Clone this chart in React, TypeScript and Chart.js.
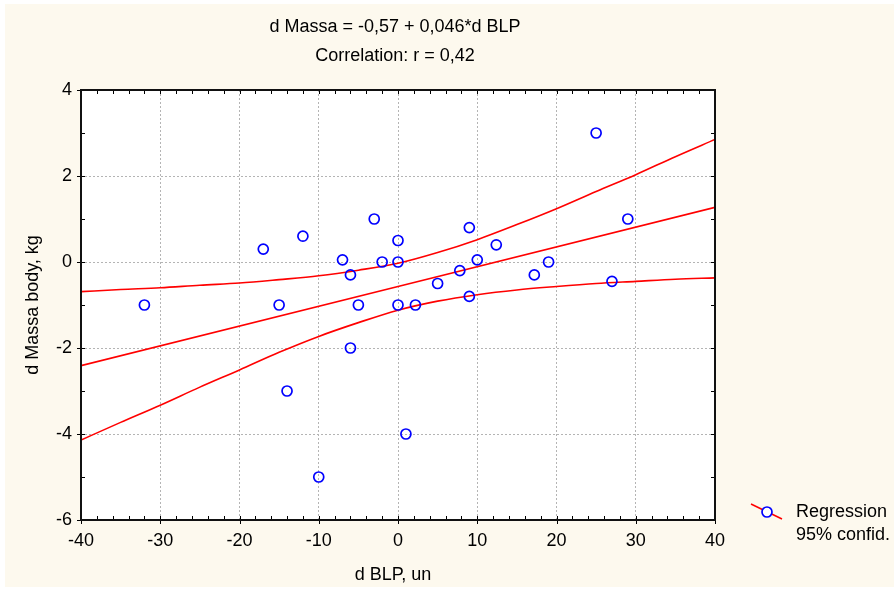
import React, { useEffect, useRef } from "react";
import { Chart, registerables } from "chart.js";

Chart.register(...registerables);

// ---- data ----
const titleLines = ["d Massa = -0,57 + 0,046*d BLP", "Correlation: r = 0,42"];
const xAxisTitle = "d BLP, un";
const yAxisTitle = "d Massa body, kg";
const legendLabels = ["Regression", "95% confid."];

// observations: change in BLP (x) and change in body mass (y)
const dBLP = [-32, -17, -15, -14, -12, -10, -7, -6, -6, -5, -3, -2, 0, 0, 0, 1, 2.2, 5, 7.8, 9, 9, 10, 12.4, 17.2, 19, 25, 27, 29];
const dMassa = [-1, 0.3, -1, -3, 0.6, -5, 0.05, -0.3, -2, -1, 1, 0, 0.5, 0, -1, -4, -1, -0.5, -0.2, 0.8, -0.8, 0.05, 0.4, -0.3, 0, 3, -0.45, 1];

// fitted line: d Massa = -0,57 + 0,046*d BLP
const intercept = -0.57;
const slope = 0.046;
const xRange = [-40, 40];
const yRange = [-6, 4];

// 95% confidence band of the fit
const bandX = [-40, -35, -30, -25, -20, -15, -10, -5, 0, 5, 10, 15, 20, 25, 30, 35, 40];
const bandUpper = [-0.69, -0.64, -0.6, -0.54, -0.49, -0.41, -0.32, -0.19, -0.03, 0.22, 0.52, 0.87, 1.24, 1.64, 2.03, 2.45, 2.85];
const bandLower = [-4.14, -3.73, -3.33, -2.91, -2.51, -2.1, -1.73, -1.41, -1.12, -0.91, -0.76, -0.65, -0.57, -0.5, -0.45, -0.4, -0.37];

const xTickStep = 10;
const yTickStep = 2;
const xMinorStep = 2;
const yMinorStep = 1;

const FONT = "'Liberation Sans', Arial, Helvetica, sans-serif";
const CREAM = "#fdf9ee";
const RED = "#ff0000";
const BLUE = "#0000ff";

const framePlugin = {
  id: "frameAndDecor",
  beforeDraw(chart: any) {
    const { ctx, chartArea: a, width, height } = chart;
    ctx.save();
    ctx.fillStyle = "#ffffff";
    ctx.fillRect(0, 0, width, height);
    ctx.fillStyle = CREAM;
    ctx.fillRect(5, 4, width - 5, height - 9);
    ctx.fillStyle = "#ffffff";
    ctx.fillRect(a.left, a.top, a.right - a.left, a.bottom - a.top);
    ctx.restore();
  },
  afterDraw(chart: any) {
    const { ctx, chartArea: a, scales } = chart;
    const xs = scales.x;
    const ys = scales.y;
    ctx.save();
    // minor ticks, pointing inward
    ctx.strokeStyle = "#000";
    ctx.lineWidth = 1;
    ctx.beginPath();
    for (let v = xRange[0] + xMinorStep; v < xRange[1]; v += xMinorStep) {
      const px = Math.round(xs.getPixelForValue(v)) + 0.5;
      ctx.moveTo(px, a.top);
      ctx.lineTo(px, a.top + 4);
      ctx.moveTo(px, a.bottom);
      ctx.lineTo(px, a.bottom - 4);
    }
    for (let v = yRange[0] + yMinorStep; v < yRange[1]; v += yMinorStep) {
      const py = Math.round(ys.getPixelForValue(v)) + 0.5;
      ctx.moveTo(a.left, py);
      ctx.lineTo(a.left + 4, py);
      ctx.moveTo(a.right, py);
      ctx.lineTo(a.right - 4, py);
    }
    // major ticks, pointing outward on the labelled axes
    for (let v = xRange[0]; v <= xRange[1]; v += xTickStep) {
      const px = Math.round(xs.getPixelForValue(v)) + 0.5;
      ctx.moveTo(px, a.bottom);
      ctx.lineTo(px, a.bottom + 4);
    }
    for (let v = yRange[0]; v <= yRange[1]; v += yTickStep) {
      const py = Math.round(ys.getPixelForValue(v)) + 0.5;
      ctx.moveTo(a.left, py);
      ctx.lineTo(a.left - 4, py);
    }
    ctx.stroke();

    // frame
    ctx.lineWidth = 2;
    ctx.strokeStyle = "#111";
    ctx.strokeRect(a.left, a.top, a.right - a.left, a.bottom - a.top);

    // titles
    ctx.fillStyle = "#000";
    ctx.font = `18px ${FONT}`;
    ctx.textAlign = "center";
    ctx.textBaseline = "middle";
    ctx.fillText(titleLines[0], 395, 27);
    ctx.fillText(titleLines[1], 395, 56);
    ctx.fillText(xAxisTitle, 393, 575);

    // legend
    ctx.strokeStyle = RED;
    ctx.lineWidth = 1.5;
    ctx.beginPath();
    ctx.moveTo(751, 504);
    ctx.lineTo(782, 519);
    ctx.stroke();
    ctx.fillStyle = "#ffffff";
    ctx.strokeStyle = BLUE;
    ctx.lineWidth = 1.7;
    ctx.beginPath();
    ctx.arc(767, 512, 5, 0, Math.PI * 2);
    ctx.fill();
    ctx.stroke();
    ctx.fillStyle = "#000";
    ctx.font = `18px ${FONT}`;
    ctx.textAlign = "left";
    ctx.fillText(legendLabels[0], 796, 512);
    ctx.fillText(legendLabels[1], 796, 535);
    ctx.restore();
  },
};

export default function App() {
  const canvasRef = useRef<HTMLCanvasElement | null>(null);

  useEffect(() => {
    const canvas = canvasRef.current;
    if (!canvas) return;

    const points = dBLP.map((x, i) => ({ x, y: dMassa[i] }));
    const fit = xRange.map((x) => ({ x, y: intercept + slope * x }));
    const upper = bandX.map((x, i) => ({ x, y: bandUpper[i] }));
    const lower = bandX.map((x, i) => ({ x, y: bandLower[i] }));

    const lineDs = (data: any[]) => ({
      type: "line" as const,
      data,
      borderColor: RED,
      borderWidth: 1.6,
      pointRadius: 0,
      fill: false,
      cubicInterpolationMode: "monotone" as const,
      order: 2,
    });

    const chart = new Chart(canvas, {
      type: "scatter",
      data: {
        datasets: [
          lineDs(fit),
          lineDs(upper),
          lineDs(lower),
          {
            type: "scatter",
            data: points,
            pointRadius: 5,
            pointBorderWidth: 1.7,
            pointBorderColor: BLUE,
            pointBackgroundColor: "rgba(255,255,255,0)",
            order: 1,
          } as any,
        ],
      },
      options: {
        responsive: false,
        animation: false,
        events: [],
        layout: { padding: { top: 90, right: 179, bottom: 0, left: 0 } },
        plugins: {
          legend: { display: false },
          title: { display: false },
          tooltip: { enabled: false },
        },
        scales: {
          x: {
            type: "linear",
            min: xRange[0],
            max: xRange[1],
            afterFit: (s: any) => {
              s.height = 72;
            },
            ticks: {
              stepSize: xTickStep,
              padding: 10,
              color: "#000",
              font: { family: FONT, size: 18 },
              maxRotation: 0,
            },
            grid: {
              color: "#b4b4b4",
              lineWidth: 1,
              drawTicks: false,
            },
            border: { display: false, dash: [2, 2] },
          },
          y: {
            type: "linear",
            min: yRange[0],
            max: yRange[1],
            afterFit: (s: any) => {
              s.width = 81;
            },
            ticks: {
              stepSize: yTickStep,
              padding: 9,
              color: "#000",
              font: { family: FONT, size: 18 },
            },
            grid: {
              color: "#b4b4b4",
              lineWidth: 1,
              drawTicks: false,
            },
            border: { display: false, dash: [2, 2] },
            title: {
              display: true,
              text: yAxisTitle,
              color: "#000",
              font: { family: FONT, size: 18 },
              padding: { top: 22, bottom: 0 },
            },
          },
        },
      },
      plugins: [framePlugin],
    });

    return () => chart.destroy();
  }, []);

  return (
    <div style={{ position: "absolute", left: 0, top: 0, width: 894, height: 592 }}>
      <canvas ref={canvasRef} width={894} height={592} style={{ display: "block" }} />
    </div>
  );
}
